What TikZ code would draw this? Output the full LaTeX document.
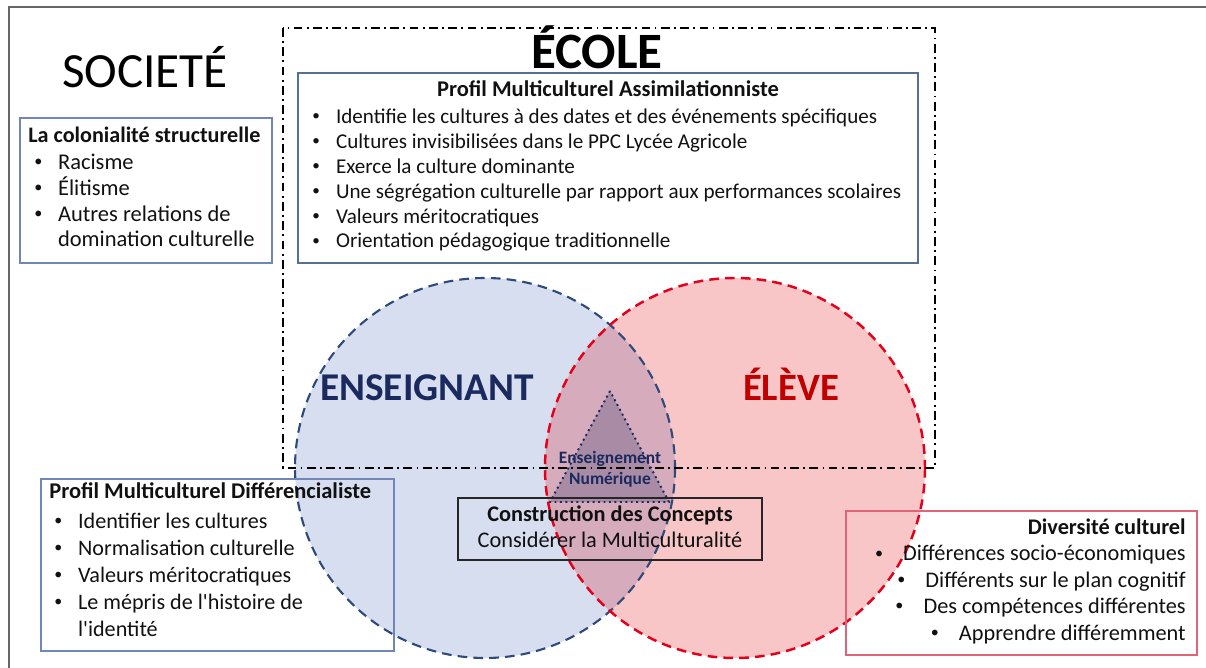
\documentclass[tikz,border=0pt]{standalone}
\usepackage{fontspec}
\setmainfont{Carlito}
\usetikzlibrary{positioning}

\definecolor{bleuFond}{HTML}{D6DEF0}
\definecolor{bleuTrait}{HTML}{2E4A7A}
\definecolor{rougeFond}{HTML}{F8C6C6}
\definecolor{rougeTrait}{HTML}{E3001B}
\definecolor{mauve}{HTML}{D6ACBC}
\definecolor{mauveFonce}{HTML}{A98BA6}
\definecolor{marine}{HTML}{1B2A5E}
\definecolor{bordeaux}{HTML}{C00000}
\definecolor{cadreBleu}{HTML}{6F86B6}
\definecolor{cadreRouge}{HTML}{E06478}
\definecolor{texte}{HTML}{111111}

\newcommand{\rond}{\raisebox{0.12em}{\scalebox{0.72}{\textbullet}}}
\newcommand{\puce}{\makebox[13.5pt][l]{\rond}}

\tikzset{
  liste/.style={anchor=base west, align=left, inner sep=0pt, text=texte},
  entete/.style={anchor=base west, inner sep=0pt, text=texte,
    font=\bfseries\fontsize{12.8}{15}\selectfont},
  titre/.style={anchor=base, inner sep=0pt, font=\bfseries\fontsize{29}{30}\selectfont},
  cercle/.style={line width=1.2pt, dash pattern=on 5.5pt off 3.5pt},
  cadre/.style={line width=0.6pt}
}

\begin{document}
\begin{tikzpicture}[x=0.02cm,y=-0.02cm]
\useasboundingbox (0,0) rectangle (1206,668);

% --- Cadre general ---
\draw[gray!80!black, line width=0.9pt] (9,668) -- (9,7) -- (1206,7);

% --- Cercles ---
\coordinate (ens) at (485,468);
\coordinate (elv) at (735,468);
\fill[bleuFond] (ens) circle[radius=190];
\fill[rougeFond] (elv) circle[radius=190];
\begin{scope}
  \clip (ens) circle[radius=190];
  \fill[mauve] (elv) circle[radius=190];
\end{scope}

% --- Triangle numerique ---
\coordinate (tA) at (610,391);
\coordinate (tB) at (550,502);
\coordinate (tC) at (669,502);
\fill[mauveFonce] (tA) -- (tB) -- (tC) -- cycle;
\draw[marine, line width=1.1pt, dotted] (tA) -- (tB) -- (tC) -- cycle;

\draw[bleuTrait, cercle] (ens) circle[radius=190];
\draw[rougeTrait, cercle, line width=1.4pt] (elv) circle[radius=190];

% --- Ecole ---
\draw[black, line width=1.1pt, dash pattern=on 5pt off 2.5pt on 1pt off 2.5pt]
  (283,28) rectangle (935,468);

% --- Cadres ---
\draw[cadreBleu, cadre] (20,118) rectangle (272,263);
\draw[bleuTrait!80, cadre] (298,73) rectangle (918,263);
\draw[cadreBleu, cadre] (41,479) rectangle (394,651);
\draw[cadreRouge, cadre] (846,511) rectangle (1197,655);
\draw[gray!30!black, cadre] (458,498) rectangle (762,560);

% --- Titres ---
\node[titre, font=\fontsize{28}{30}\selectfont] (societe) at (145,88) {SOCIETÉ};
\node[titre] (ecole) at (597,69) {ÉCOLE};
\node[titre, marine, font=\bfseries\fontsize{22.4}{24}\selectfont] (enseignant) at (427,400) {ENSEIGNANT};
\node[titre, bordeaux, font=\bfseries\fontsize{22}{24}\selectfont] (eleve) at (791,400) {ÉLÈVE};
\node[anchor=base, align=center, inner sep=0pt, marine,
  font=\bfseries\fontsize{9.9}{11.9}\selectfont] (numerique) at (610,484) {Enseignement\\Numérique};

% --- Societe ---
\node[entete, font=\bfseries\fontsize{12.6}{15}\selectfont] (colonialT) at (28,143) {La colonialité structurelle};
\node[liste, font=\fontsize{12.8}{14.74}\selectfont] (colonialL) at (34,247)
  {\puce Racisme\\ \puce Élitisme\\ \puce Autres relations de\\ \hspace*{13.5pt}domination culturelle};

% --- Assimilationniste ---
\node[entete, anchor=base] (assimT) at (608,97)
  {Profil Multiculturel Assimilationniste};
\node[liste, font=\fontsize{12}{14.17}\selectfont] (assimL) at (312,248)
  {\puce Identifie les cultures à des dates et des événements spécifiques\\
   \puce Cultures invisibilisées dans le PPC Lycée Agricole\\
   \puce Exerce la culture dominante\\
   \puce Une ségrégation culturelle par rapport aux performances scolaires\\
   \puce Valeurs méritocratiques\\
   \puce Orientation pédagogique traditionnelle};

% --- Differencialiste ---
\node[entete] (diffT) at (49,498)
  {Profil Multiculturel Différencialiste};
\node[liste, font=\fontsize{12.6}{15.3}\selectfont] (diffL) at (54,636)
  {\puce Identifier les cultures\\ \puce Normalisation culturelle\\
   \puce Valeurs méritocratiques\\ \puce Le mépris de l\textquotesingle histoire de\\
   \hspace*{13.5pt}l\textquotesingle identité};

% --- Construction ---
\node[anchor=base, align=center, inner sep=0pt, text=texte,
  font=\fontsize{12.7}{14.74}\selectfont] (construction) at (610,547)
  {\textbf{Construction des Concepts}\\Considérer la Multiculturalité};

% --- Diversite ---
\node[anchor=base east, align=right, inner sep=0pt, text=texte,
  font=\fontsize{12.7}{15}\selectfont] (diversite) at (1186,640)
  {\textbf{Diversité culturel}\\
   \makebox[16pt][l]{\rond}Différences socio-économiques\\
   \makebox[16pt][l]{\rond}Différents sur le plan cognitif\\
   \makebox[16pt][l]{\rond}Des compétences différentes\\
   \makebox[16pt][l]{\rond}Apprendre différemment};

\end{tikzpicture}
\end{document}
